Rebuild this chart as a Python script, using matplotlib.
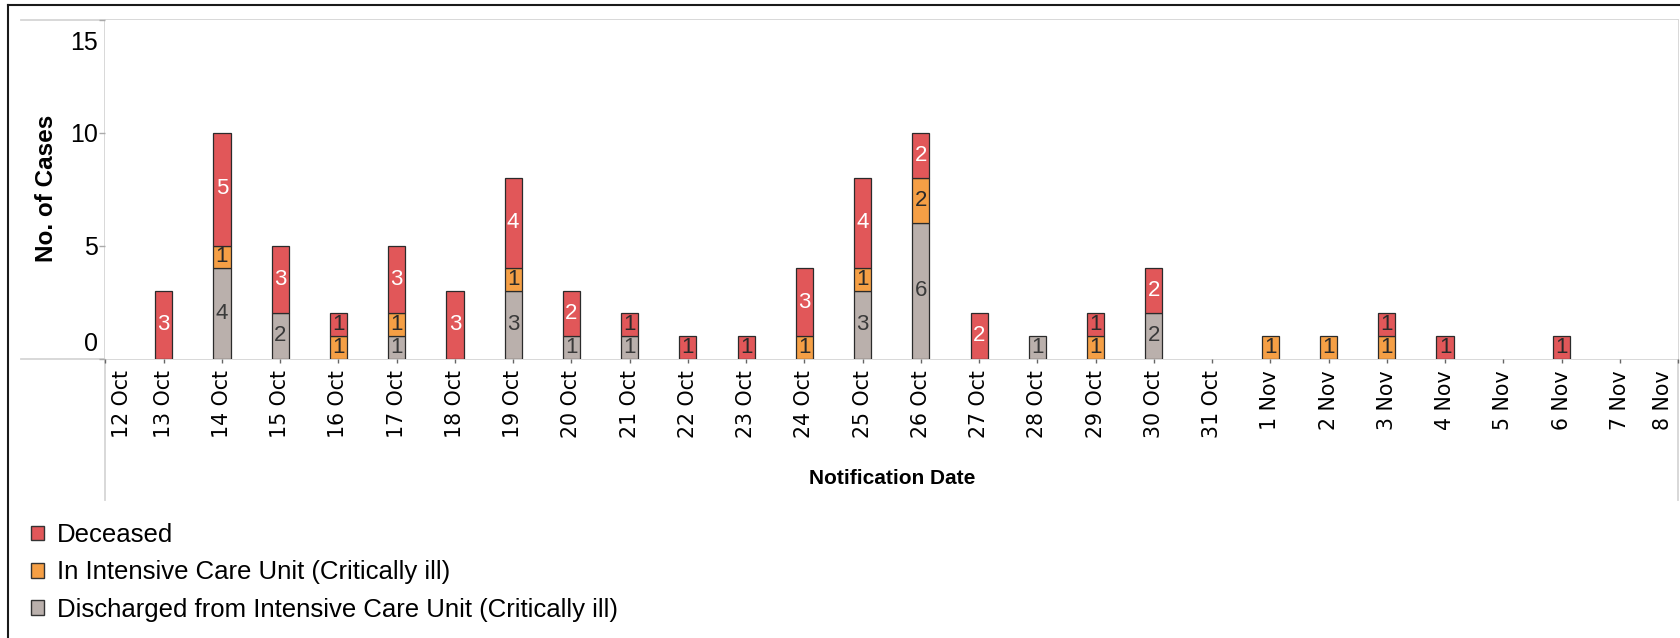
import numpy as np
import matplotlib
matplotlib.use("Agg")
import matplotlib.pyplot as plt
from matplotlib.patches import Patch
from matplotlib.lines import Line2D
from matplotlib.transforms import ScaledTranslation

# ---------------- data ----------------
dates = ["12 Oct", "13 Oct", "14 Oct", "15 Oct", "16 Oct", "17 Oct", "18 Oct",
         "19 Oct", "20 Oct", "21 Oct", "22 Oct", "23 Oct", "24 Oct", "25 Oct",
         "26 Oct", "27 Oct", "28 Oct", "29 Oct", "30 Oct", "31 Oct", "1 Nov",
         "2 Nov", "3 Nov", "4 Nov", "5 Nov", "6 Nov", "7 Nov", "8 Nov"]
discharged = [0, 0, 4, 2, 0, 1, 0, 3, 1, 1, 0, 0, 0, 3, 6, 0, 1, 0, 2, 0, 0, 0, 0, 0, 0, 0, 0, 0]
icu        = [0, 0, 1, 0, 1, 1, 0, 1, 0, 0, 0, 0, 1, 1, 2, 0, 0, 1, 0, 0, 1, 1, 1, 0, 0, 0, 0, 0]
deceased   = [0, 3, 5, 3, 1, 3, 3, 4, 2, 1, 1, 1, 3, 4, 2, 2, 0, 1, 2, 0, 0, 0, 1, 1, 0, 1, 0, 0]
series_names = ["Deceased", "In Intensive Care Unit (Critically ill)",
                "Discharged from Intensive Care Unit (Critically ill)"]
y_ticks = [0, 5, 10, 15]

C_RED = "#E15759"
C_ORA = "#F59F45"
C_GRY = "#BAB0AC"

W, H = 1681, 638
fig = plt.figure(figsize=(W / 100, H / 100), dpi=100)

def fx(px):
    return px / W

def fy(py):
    return 1 - py / H

L, R, T, B = 105.5, 1678.0, 19.5, 358.5
ax = fig.add_axes([fx(L), fy(B), fx(R - L), (B - T) / H])

x = np.arange(len(dates))
d = np.array(discharged)
o = np.array(icu)
r = np.array(deceased)
bw = 0.295
edge = "#2b2b2b"

def draw(vals, bottom, color):
    m = vals > 0
    ax.bar(x[m], vals[m], bottom=bottom[m], width=bw, color=color,
           edgecolor=edge, linewidth=0.9, zorder=3)

zeros = np.zeros(len(x))
draw(d, zeros, C_GRY)
draw(o, d.astype(float), C_ORA)
draw(r, (d + o).astype(float), C_RED)

lab_font = dict(family="Liberation Sans", fontsize=16, ha="center", va="center", zorder=5)
for i in range(len(x)):
    if d[i] > 0:
        ax.text(x[i], d[i] / 2, str(d[i]), color="#3a3a3a", **lab_font)
    if o[i] > 0:
        ax.text(x[i], d[i] + o[i] / 2, str(o[i]), color="#2a2a2a", **lab_font)
    if r[i] > 0:
        col = "#FFFFFF" if r[i] >= 2 else "#2a2a2a"
        ax.text(x[i], d[i] + o[i] + r[i] / 2, str(r[i]), color=col, **lab_font)

ax.set_xlim(0, len(dates) - 1)
ax.set_ylim(0, 15)
for s in ax.spines.values():
    s.set_visible(False)

ax.set_xticks(x)
ax.set_xticklabels(dates, rotation=90, family="DejaVu Sans", fontsize=14.8)
ax.tick_params(axis="x", length=3, width=1, color="#666666", pad=5.5)
ax.set_yticks(y_ticks)
ax.set_yticklabels([str(v) for v in y_ticks], family="Liberation Sans", fontsize=18)
ax.tick_params(axis="y", length=4.5, width=1, color="#aaaaaa", pad=1)

# Tableau-like inward shift of edge labels
xl = ax.get_xticklabels()
xl[0].set_transform(xl[0].get_transform() + ScaledTranslation(0.165, 0, fig.dpi_scale_trans))
xl[-1].set_transform(xl[-1].get_transform() + ScaledTranslation(-0.15, 0, fig.dpi_scale_trans))
yl = ax.get_yticklabels()
yl[0].set_transform(yl[0].get_transform() + ScaledTranslation(0, 0.17, fig.dpi_scale_trans))
yl[-1].set_transform(yl[-1].get_transform() + ScaledTranslation(0, -0.205, fig.dpi_scale_trans))

# axis titles
fig.text(fx(47), fy(188), "No. of Cases", rotation=90, ha="center", va="center",
         family="Liberation Sans", fontweight="bold", fontsize=17.5)
fig.text(fx(892), fy(478), "Notification Date", ha="center", va="center",
         family="Liberation Sans", fontweight="bold", fontsize=15)

# pane lines
gl = dict(color="#d6d6d6", linewidth=1.3, transform=fig.transFigure, zorder=0)
fig.add_artist(Line2D([fx(21), fx(R)], [fy(T), fy(T)], **gl))
fig.add_artist(Line2D([fx(21), fx(R)], [fy(B), fy(B)], **gl))
fig.add_artist(Line2D([fx(L), fx(L)], [fy(T), fy(500)], **gl))
fig.add_artist(Line2D([fx(R), fx(R)], [fy(T), fy(500)], **gl))
# outer frame
bl = dict(color="#1a1a1a", linewidth=1.5, transform=fig.transFigure)
fig.add_artist(Line2D([fx(8), fx(W)], [fy(5), fy(5)], **bl))
fig.add_artist(Line2D([fx(8), fx(8)], [fy(5), fy(H)], **bl))

# legend
handles = [Patch(facecolor=c, edgecolor="#333333", linewidth=1.0) for c in (C_RED, C_ORA, C_GRY)]
leg = fig.legend(handles, series_names, loc="upper left",
                 bbox_to_anchor=(fx(31), fy(523)), frameon=False,
                 prop=dict(family="Liberation Sans", size=18.5),
                 handlelength=0.5, handleheight=0.5, handletextpad=0.5,
                 labelspacing=0.52, borderpad=0, borderaxespad=0)

fig.savefig("out.png", dpi=100, facecolor="white")
